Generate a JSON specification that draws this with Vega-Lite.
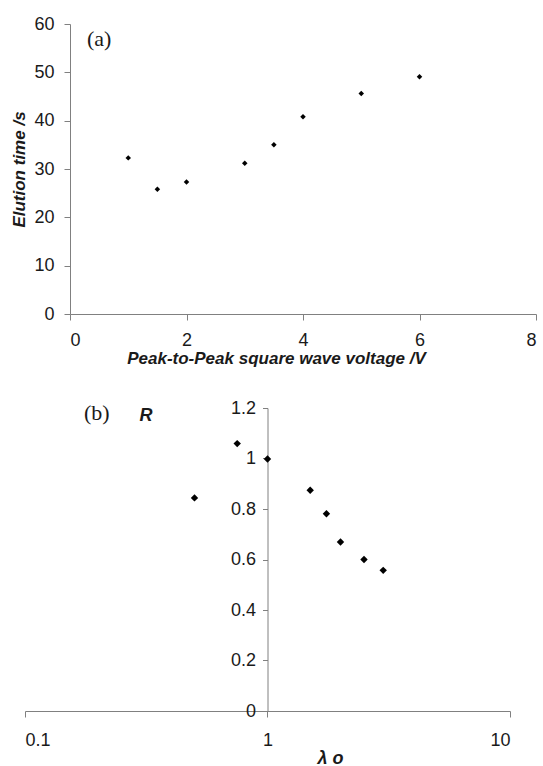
{
  "$schema": "https://vega.github.io/schema/vega-lite/v6.json",
  "padding": {"left": 10, "top": 15, "right": 0, "bottom": 0},
  "background": "white",
  "spacing": 94,
  "bounds": "flush",
  "config": {
    "view": {"stroke": null},
    "axis": {
      "grid": false,
      "domainColor": "#808080",
      "tickColor": "#808080",
      "tickSize": 6,
      "labelFont": "Liberation Sans",
      "labelFontSize": 18,
      "labelColor": "#1a1a1a",
      "titleFont": "Liberation Sans",
      "titleFontStyle": "italic",
      "titleFontWeight": "bold",
      "titleColor": "#1a1a1a",
      "titleFontSize": 17
    },
    "title": {"font": "Liberation Serif", "fontSize": 22, "fontWeight": "normal", "color": "#1a1a1a", "anchor": "start", "frame": "group"}
  },
  "datasets": {
    "a": [
      {"voltage": 1, "elution": 32.3},
      {"voltage": 1.5, "elution": 25.8},
      {"voltage": 2, "elution": 27.3},
      {"voltage": 3, "elution": 31.2},
      {"voltage": 3.5, "elution": 35.0},
      {"voltage": 4, "elution": 40.8},
      {"voltage": 5, "elution": 45.6},
      {"voltage": 6, "elution": 49.1}
    ],
    "b": [
      {"lambda": 0.5, "R": 0.844},
      {"lambda": 0.75, "R": 1.059},
      {"lambda": 1.0, "R": 0.998},
      {"lambda": 1.5, "R": 0.874},
      {"lambda": 1.75, "R": 0.781},
      {"lambda": 2.0, "R": 0.669},
      {"lambda": 2.5, "R": 0.600},
      {"lambda": 3.0, "R": 0.557}
    ]
  },
  "vconcat": [
    {
      "width": 511,
      "height": 290,
      "data": {"name": "a"},
      "title": {"text": "(a)", "dx": 62, "dy": 40},
      "mark": {"type": "point", "shape": "diamond", "filled": true, "color": "#000000", "size": 30, "opacity": 1},
      "encoding": {
        "x": {
          "field": "voltage", "type": "quantitative",
          "scale": {"domain": [0, 8], "range": [45, 511], "nice": false, "zero": false},
          "axis": {"values": [0, 2, 4, 6, 8], "title": "Peak-to-Peak square wave voltage /V", "labelPadding": 11, "titlePadding": 1, "titleX": 251}
        },
        "y": {
          "field": "elution", "type": "quantitative",
          "scale": {"domain": [0, 60], "nice": false},
          "axis": {"values": [0, 10, 20, 30, 40, 50, 60], "title": "Elution time  /s", "offset": -45, "labelPadding": 10, "titlePadding": 5}
        }
      }
    },
    {
      "width": 485,
      "height": 303,
      "data": {"name": "b"},
      "title": {"text": "(b)", "dx": 59, "dy": 30},
      "mark": {"type": "point", "shape": "diamond", "filled": true, "color": "#000000", "size": 55, "opacity": 1},
      "encoding": {
        "x": {
          "field": "lambda", "type": "quantitative",
          "scale": {"type": "log", "domain": [0.1, 10], "nice": false},
          "axis": {"values": [0.1, 1, 10], "format": "~g", "title": "λ o", "labelPadding": 14, "titlePadding": 0, "titleX": 305, "titleFontSize": 18}
        },
        "y": {
          "field": "R", "type": "quantitative",
          "scale": {"domain": [0, 1.2], "nice": false},
          "axis": {"values": [0, 0.2, 0.4, 0.6, 0.8, 1, 1.2], "format": "~g", "title": "R", "offset": -242.5, "tickSize": 5, "labelPadding": 7, "titleAngle": 0, "titleX": -122, "titleY": -2, "titleAlign": "center", "titleBaseline": "top", "titleFontSize": 18}
        }
      }
    }
  ]
}
